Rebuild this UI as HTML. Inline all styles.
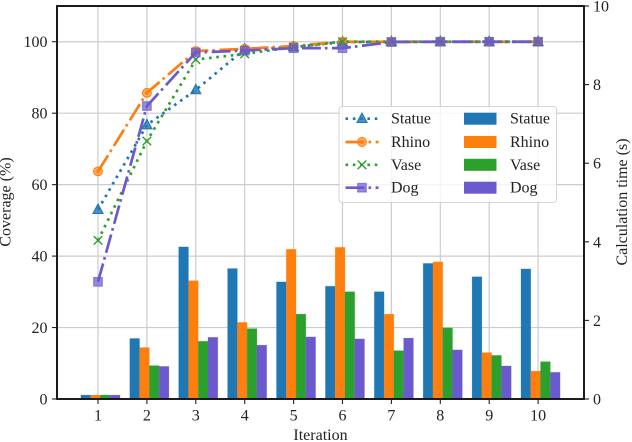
<!DOCTYPE html>
<html>
<head>
<meta charset="utf-8">
<style>
html,body{margin:0;padding:0;background:#fff;width:632px;height:442px;overflow:hidden}
svg{display:block}
text{font-family:"Liberation Serif",serif;fill:#222}
</style>
</head>
<body>
<svg id="chart" xmlns="http://www.w3.org/2000/svg" width="632" height="442" viewBox="0 0 632 442"></svg>
<script>
const iterations = [1,2,3,4,5,6,7,8,9,10];
const seriesNames = ["Statue","Rhino","Vase","Dog"];
const coverageStatue = [53,76.7,86.5,97.9,98.5,99.9,100,100,100,100];
const coverageRhino = [63.7,85.7,97.4,98,98.8,100,100,100,100,100];
const coverageVase = [44.4,72.2,95,96.6,98.5,100,100,100,100,100];
const coverageDog = [32.8,82,97,97.5,98.2,98.2,99.9,100,100,100];
const timeStatue = [0.1,1.54,3.87,3.32,2.98,2.87,2.73,3.45,3.11,3.31];
const timeRhino = [0.1,1.31,3.01,1.95,3.81,3.86,2.16,3.49,1.18,0.71];
const timeVase = [0.1,0.85,1.47,1.79,2.16,2.73,1.23,1.81,1.11,0.95];
const timeDog = [0.1,0.83,1.57,1.37,1.58,1.53,1.55,1.25,0.84,0.68];
const leftTicks = [0,20,40,60,80,100];
const rightTicks = [0,2,4,6,8,10];

const coverageSeries = [coverageStatue,coverageRhino,coverageVase,coverageDog];
const timeSeries = [timeStatue,timeRhino,timeVase,timeDog];
const colors = ["#1f77b4","#ff7f0e","#2ca02c","#6a5acd"];
const dashes = ["2.6 4.7","19 4 2.6 4.5","2.6 4.7","19 4 2.6 4.5"];
const markers = ["triangle","circle","x","square"];

const svg = document.getElementById('chart');
const NS = 'http://www.w3.org/2000/svg';
const L = 57, R = 584, T = 6, B = 399;
const FS = 16;
const xPos = v => 98 + (v - 1) * 48.9;
const yLeft = v => B - v * (B - T) / 110;
const yRight = v => B - v * (B - T) / 10;

function mk(tag, attrs, parent) {
  const e = document.createElementNS(NS, tag);
  for (const k in attrs) e.setAttribute(k, attrs[k]);
  (parent || svg).appendChild(e);
  return e;
}
function addText(str, x, y, size, anchor, parent) {
  const t = mk('text', {x:x, y:y, 'font-size':size, 'text-anchor':anchor}, parent);
  t.textContent = str;
  return t;
}
function drawMarker(kind, x, y, color, parent) {
  if (kind === 'triangle') {
    mk('path', {d:`M${x} ${y-5.6}L${x+5} ${y+3.8}L${x-5} ${y+3.8}Z`, fill:color, 'fill-opacity':0.8, stroke:color, 'stroke-width':1.1}, parent);
  } else if (kind === 'circle') {
    mk('circle', {cx:x, cy:y, r:4.4, fill:color, 'fill-opacity':0.6, stroke:color, 'stroke-width':1.1}, parent);
    mk('circle', {cx:x, cy:y, r:2.4, fill:color, 'fill-opacity':0.6}, parent);
  } else if (kind === 'x') {
    mk('path', {d:`M${x-4.3} ${y-4.3}L${x+4.3} ${y+4.3}M${x+4.3} ${y-4.3}L${x-4.3} ${y+4.3}`, fill:'none', stroke:color, 'stroke-width':1.4}, parent);
  } else {
    mk('rect', {x:x-4.3, y:y-4.3, width:8.6, height:8.6, fill:color, 'fill-opacity':0.7, stroke:color, 'stroke-opacity':0.7, 'stroke-width':1.1}, parent);
  }
}

/* grid */
const grid = mk('g', {});


iterations.forEach(v => {
  const g = mk('line', {x1:xPos(v), x2:xPos(v), y1:T, y2:B, stroke:'#cccccc', 'stroke-width':1.2}, grid);
  
  
});
leftTicks.forEach(v => {
  const g = mk('line', {x1:L, x2:R, y1:yLeft(v), y2:yLeft(v), stroke:'#cccccc', 'stroke-width':1.2}, grid);
  
  
});

/* bars */
const barUnit = 0.2;
timeSeries.forEach((vals, s) => {
  vals.forEach((v, i) => {
    const x0 = xPos(iterations[i] + 0.05 + (s - 2) * barUnit);
    const bar = mk('rect', {x:x0, y:yRight(v), width:barUnit * 48.9, height:B - yRight(v), fill:colors[s], stroke:colors[s], 'stroke-opacity':0.25, 'stroke-width':0.8});
    
    
  });
});

/* lines */
coverageSeries.forEach((vals, s) => {
  const g = mk('g', {});
  
  
  const d = vals.map((v, i) => (i ? 'L' : 'M') + xPos(iterations[i]) + ' ' + yLeft(v)).join('');
  mk('path', {d:d, fill:'none', stroke:colors[s], 'stroke-width':2.7, 'stroke-dasharray':dashes[s]}, g);
  vals.forEach((v, i) => drawMarker(markers[s], xPos(iterations[i]), yLeft(v), colors[s], g));
});

/* spines */
const spines = mk('rect', {x:L, y:T, width:R - L, height:B - T, fill:'none', stroke:'#111', 'stroke-width':1.9});



/* x ticks */
iterations.forEach(v => {
  mk('line', {x1:xPos(v), x2:xPos(v), y1:B, y2:B + 5, stroke:'#222', 'stroke-width':1.1});
  const t = addText(String(v), xPos(v), 420.5, FS, 'middle');
  
  
});
/* left ticks */
leftTicks.forEach(v => {
  mk('line', {x1:L - 5, x2:L, y1:yLeft(v), y2:yLeft(v), stroke:'#222', 'stroke-width':1.1});
  const t = addText(String(v), L - 9.5, yLeft(v) + 5.5, FS, 'end');
  
  
});
/* right ticks */
rightTicks.forEach(v => {
  mk('line', {x1:R, x2:R + 5, y1:yRight(v), y2:yRight(v), stroke:'#222', 'stroke-width':1.1});
  const t = addText(String(v), R + 9, yRight(v) + 5.5, FS, 'start');
  
  
});

/* axis titles */
const xTitle = addText('Iteration', 320.5, 440, FS, 'middle');


const yTitleL = addText('Coverage (%)', 0, 0, FS, 'middle');
yTitleL.setAttribute('transform', 'translate(10.5 202) rotate(-90)');


const yTitleR = addText('Calculation time (s)', 0, 0, FS, 'middle');
yTitleR.setAttribute('transform', 'translate(627 202) rotate(-90)');



/* legend */
const legend = mk('g', {});


mk('rect', {x:339, y:106.5, width:217.5, height:96, rx:3, fill:'#fff', 'fill-opacity':0.8, stroke:'#cccccc', 'stroke-opacity':0.8, 'stroke-width':1}, legend);
const legendRows = [118.7, 142, 164.8, 187.7];
seriesNames.forEach((name, s) => {
  const y = legendRows[s];
  const entryL = mk('g', {}, legend);
  
  
  mk('line', {x1:345.5, x2:378.5, y1:y, y2:y, stroke:colors[s], 'stroke-width':2.7, 'stroke-dasharray':dashes[s]}, entryL);
  drawMarker(markers[s], 362, y, colors[s], entryL);
  addText(name, 391, y + 5, FS, 'start', entryL);
  const entryB = mk('g', {}, legend);
  
  
  mk('rect', {x:464, y:y - 6, width:32.5, height:12, fill:colors[s]}, entryB);
  addText(name, 510, y + 5, FS, 'start', entryB);
});
</script>
</body>
</html>
